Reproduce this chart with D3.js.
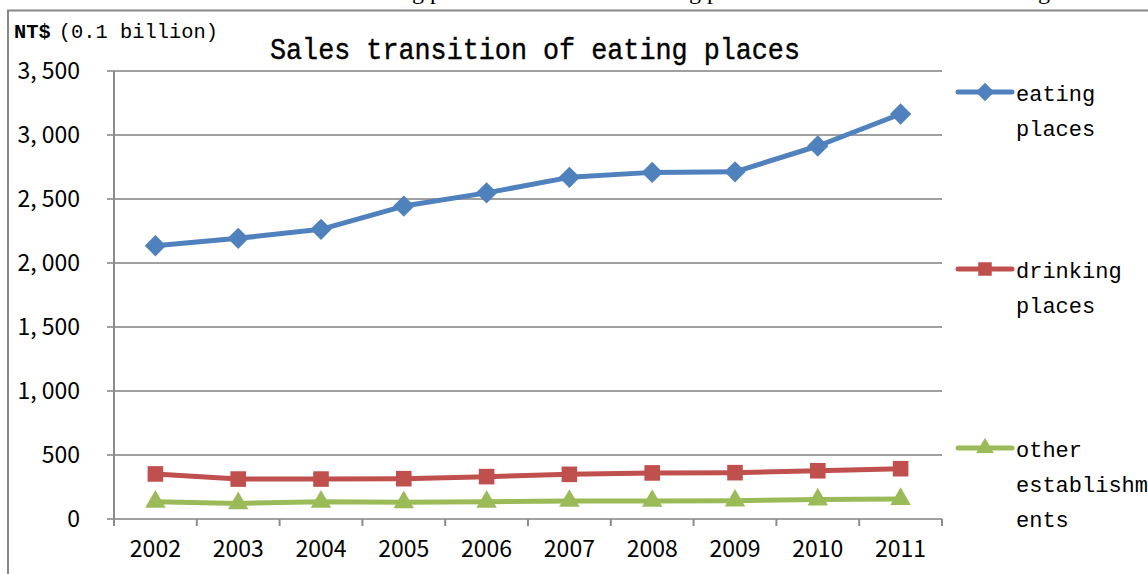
<!DOCTYPE html>
<html><head><meta charset="utf-8">
<script src="https://cdn.jsdelivr.net/npm/d3@7"></script>
<style>body{margin:0;background:#fff;} svg{display:block;}</style>
</head><body>
<svg id="c" width="1148" height="574"></svg>
<script>
const years = ["2002","2003","2004","2005","2006","2007","2008","2009","2010","2011"];
const eating = [2135, 2193, 2263, 2445, 2548, 2669, 2708, 2712, 2914, 3164];
const drinking = [352, 312, 312, 315, 331, 349, 360, 362, 377, 393];
const other = [135, 122, 135, 130, 135, 141, 141, 143, 152, 156];
const yTicks = [0, 500, 1000, 1500, 2000, 2500, 3000, 3500];
const seriesNames = [["eating","places"],["drinking","places"],["other","establishm","ents"]];
const colors = ["#4F81BD","#C0504D","#9BBB59"];
const titleText = "Sales transition of eating places";
const unitText = "(0.1 billion)";
// caption above the frame, cut off by the page edge: [text, index of aligned char, x of that char]
const captionParts = [
  ["of eating places", 8, 412],
  ["and drinking places", 11, 689],
  ["eating", 5, 1038]
];

const svg = d3.select("#c");
const L = 114, R = 942, T = 71, B = 519;
const x = d3.scaleBand().domain(years).range([L, R]);
const y = d3.scaleLinear().domain([0, 3500]).range([B, T]);

// cut-off caption at top
captionParts.forEach(([t, idx, px]) => {
  const el = svg.append("text").attr("x", 0).attr("y", -1)
    .attr("font-family", "Liberation Serif").attr("font-size", 24).text(t);
  let off = 0;
  try { off = el.node().getStartPositionOfChar(idx).x; } catch (e) { off = 0; }
  el.attr("x", px - off);
});

// frame
svg.append("line").attr("x1", 7).attr("x2", 1148).attr("y1", 10.5).attr("y2", 10.5)
  .attr("stroke", "#888").attr("stroke-width", 2);
svg.append("line").attr("x1", 8).attr("x2", 8).attr("y1", 10).attr("y2", 574)
  .attr("stroke", "#888").attr("stroke-width", 2);

// gridlines
svg.append("g").selectAll("line").data(yTicks).join("line")
  .attr("x1", L - 7).attr("x2", R).attr("y1", d => y(d)).attr("y2", d => y(d))
  .attr("stroke", "#A0A0A0").attr("stroke-width", 2);

// y axis line
svg.append("line").attr("x1", L).attr("x2", L).attr("y1", T).attr("y2", B + 7)
  .attr("stroke", "#8C8C8C").attr("stroke-width", 2);

// x ticks at category boundaries
const bounds = years.map(d => x(d)).concat([R]);
svg.append("g").selectAll("line").data(bounds).join("line")
  .attr("x1", d => d).attr("x2", d => d).attr("y1", B).attr("y2", B + 7)
  .attr("stroke", "#8C8C8C").attr("stroke-width", 2);

// y labels
const fmt = d3.format(",");
svg.append("g").selectAll("text").data(yTicks).join("text")
  .attr("x", 80).attr("y", d => y(d) + 8).attr("text-anchor", "end")
  .attr("font-family", "Noto Sans CJK JP").attr("font-size", 23)
  .text(d => fmt(d).replace(",", ", "));

// x labels
svg.append("g").selectAll("text").data(years).join("text")
  .attr("x", d => x(d) + x.bandwidth() / 2).attr("y", 557).attr("text-anchor", "middle")
  .attr("font-family", "Noto Sans CJK JP").attr("font-size", 23)
  .text(d => d);

// title
svg.append("text").attr("x", 270).attr("y", 59)
  .attr("font-family", "Liberation Mono").attr("font-size", 30)
  .attr("stroke", "#000").attr("stroke-width", 0.4)
  .attr("textLength", 530).attr("lengthAdjust", "spacingAndGlyphs")
  .text(titleText);

// unit label
const u = svg.append("text").attr("x", 14).attr("y", 38)
  .attr("font-family", "Liberation Mono").attr("font-size", 20)
  .attr("textLength", 204).attr("lengthAdjust", "spacingAndGlyphs");
u.append("tspan").attr("font-weight", "bold").text("NT$");
u.append("tspan").attr("dx", 8).text(unitText);

// series
const data = [eating, drinking, other];
const cx = i => x(years[i]) + x.bandwidth() / 2;
const line = d3.line().x((d, i) => cx(i)).y(d => y(d));
const symTypes = [d3.symbolDiamond2, d3.symbolSquare2, d3.symbolTriangle2];
const symSizes = [290, 310, 300];

data.forEach((vals, s) => {
  const g = svg.append("g");
  g.append("path").datum(vals).attr("d", line).attr("fill", "none")
    .attr("stroke", colors[s]).attr("stroke-width", 5).attr("stroke-linejoin", "round");
  const sym = d3.symbol().type(symTypes[s]).size(symSizes[s]);
  g.selectAll("path.m").data(vals).join("path").attr("class", "m")
    .attr("transform", (d, i) => `translate(${cx(i)},${y(d)})`)
    .attr("d", sym).attr("fill", colors[s]).attr("stroke", "none");
});

// legend
const legY = [92, 269, 448];
seriesNames.forEach((names, s) => {
  const g = svg.append("g");
  g.append("line").attr("x1", 958).attr("x2", 1012).attr("y1", legY[s]).attr("y2", legY[s])
    .attr("stroke", colors[s]).attr("stroke-width", 5).attr("stroke-linecap", "round");
  const sym = d3.symbol().type(symTypes[s]).size(symSizes[s] * 0.75);
  g.append("path").attr("transform", `translate(985,${legY[s]})`).attr("d", sym).attr("fill", colors[s]);
  names.forEach((n, k) => {
    g.append("text").attr("x", 1016).attr("y", legY[s] + 9 + k * 35)
      .attr("font-family", "Liberation Mono").attr("font-size", 22)
      .text(n);
  });
});
</script>
</body></html>
